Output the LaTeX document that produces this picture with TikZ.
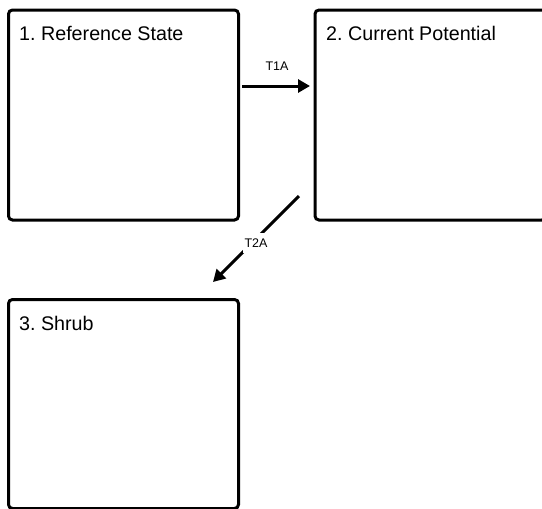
\documentclass[tikz,border=0pt]{standalone}
\usepackage{fontspec}
\setmainfont{Liberation Sans}
\usetikzlibrary{arrows.meta,positioning}
\frenchspacing
\begin{document}
\begin{tikzpicture}[x=1pt,y=-1pt,
  statebox/.style={draw=black, line width=3pt, rounded corners=4pt, fill=white,
    minimum width=230pt, minimum height=210pt, inner sep=0pt, anchor=north west},
  boxtitle/.style={anchor=base west, inner sep=0pt, font=\fontsize{19.7}{24}\selectfont},
  trans/.style={line width=3pt, -{Triangle[length=12pt,width=13pt]}},
  translabel/.style={font=\fontsize{12.5}{15}\selectfont, inner sep=1.5pt}]
\useasboundingbox (0,0) rectangle (542,509);
\fill[white] (0,0) rectangle (542,509);
\node[statebox] (b1) at (7,8.5) {};
\node[statebox, minimum width=231pt] (b2) at (313.5,8.5) {};
\node[statebox, minimum height=209pt] (b3) at (7,298) {};
\node[boxtitle] (t1) at (19,40) {1. Reference State};
\node[boxtitle] (t2) at (326,40) {2. Current Potential};
\node[boxtitle] (t3) at (19,330) {3. Shrub};
\coordinate (a1s) at (242,86);
\coordinate (a1e) at (310,86);
\coordinate (a2s) at (299,196);
\coordinate (a2e) at (213,282);
\draw[trans] (a1s) -- (a1e);
\node[translabel] (l1) at (277,66) {T1A};
\draw[trans] (a2s) -- (a2e);
\node[translabel, fill=white, inner xsep=2pt, inner ysep=6pt] (l2) at (256,243) {T2A};
\end{tikzpicture}
\end{document}
